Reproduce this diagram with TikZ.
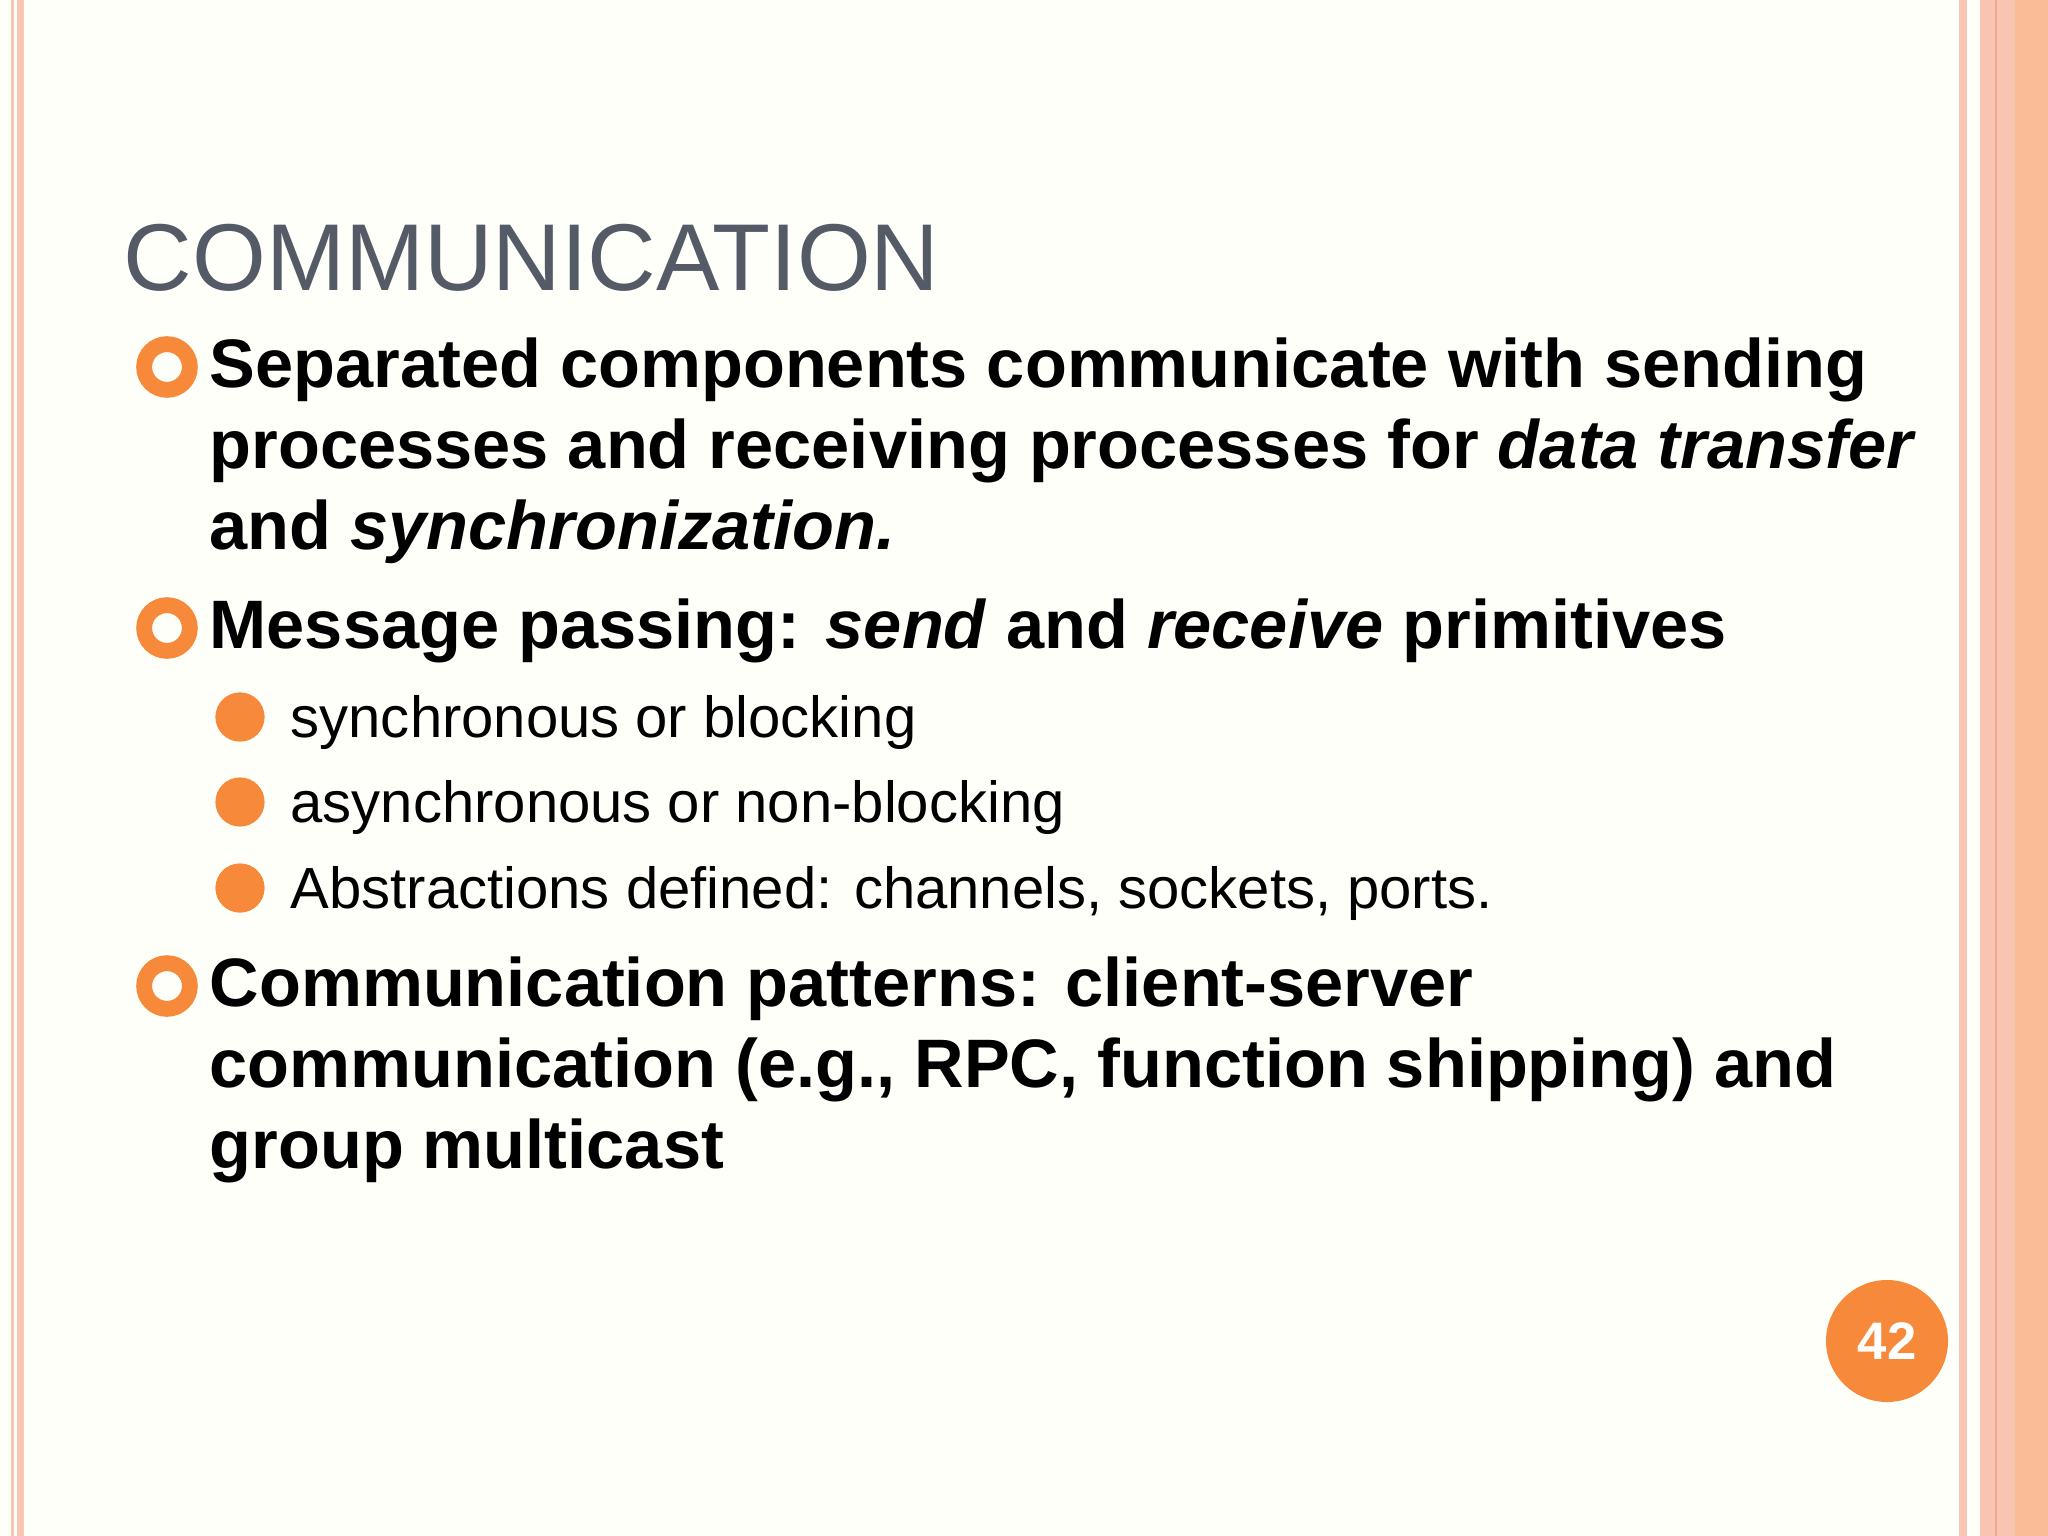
\documentclass[tikz,border=0pt]{standalone}
\usepackage{fontspec}
\setmainfont{Liberation Sans}
\definecolor{stripe}{HTML}{F9C5B2}
\definecolor{stripeD}{HTML}{F3A98C}
\definecolor{orng}{HTML}{F7893A}
\definecolor{titlec}{HTML}{545A66}
\begin{document}
\begin{tikzpicture}[x=0.01cm,y=-0.01cm,
 big/.style={anchor=base west,inner sep=0,font=\fontsize{19.5}{23}\selectfont\bfseries},
 small/.style={anchor=base west,inner sep=0,font=\fontsize{16.5}{20}\selectfont},
 ring/.style={draw=orng,line width=4.5pt,circle,minimum size=13pt,inner sep=0},
 dot/.style={fill=orng,circle,minimum size=14pt,inner sep=0}]
\useasboundingbox (0,0) rectangle (2048,1536);
\fill[white!98!yellow] (0,0) rectangle (2048,1536);
\fill[stripe] (11,0) rectangle (14,1536);
\fill[stripe] (17,0) rectangle (24,1536);
\fill[stripe] (1959,0) rectangle (1967,1536);
\fill[stripe] (1980,0) rectangle (2048,1536);
\fill[stripeD] (1995,0) rectangle (1997,1536);
\fill[stripe!85!orange] (2015,0) rectangle (2048,1536);
\node[anchor=base west,inner sep=0,text=titlec,font=\fontsize{27}{32}\selectfont] (title) at (123,290) {COMMUNICATION};
\node[ring] (r1) at (167,367) {};
\node[big] (l1) at (209,387) {Separated components communicate with sending};
\node[big] (l2) at (209,468) {processes and receiving processes for \textit{data transfer}};
\node[big] (l3) at (209,549) {and \textit{synchronization.}};
\node[ring] (r2) at (167,628) {};
\node[big] (l4) at (209,648) {Message passing: \textit{send} and \textit{receive} primitives};
\node[dot] (d1) at (240,717) {};
\node[small] (s1) at (290,737) {synchronous or blocking};
\node[dot] (d2) at (240,802) {};
\node[small] (s2) at (290,822) {asynchronous or non-blocking};
\node[dot] (d3) at (240,888) {};
\node[small] (s3) at (290,908) {Abstractions defined: channels, sockets, ports.};
\node[ring] (r3) at (167,986) {};
\node[big] (l5) at (209,1006) {Communication patterns: client-server};
\node[big] (l6) at (209,1087) {communication (e.g., RPC, function shipping) and};
\node[big] (l7) at (209,1168) {group multicast};
\node[circle,fill=orng,minimum size=122\pgflinewidth*0+34.7pt,inner sep=0,text=white,font=\fontsize{15}{18}\selectfont\bfseries] (pg) at (1887,1341) {42};
\end{tikzpicture}
\end{document}
